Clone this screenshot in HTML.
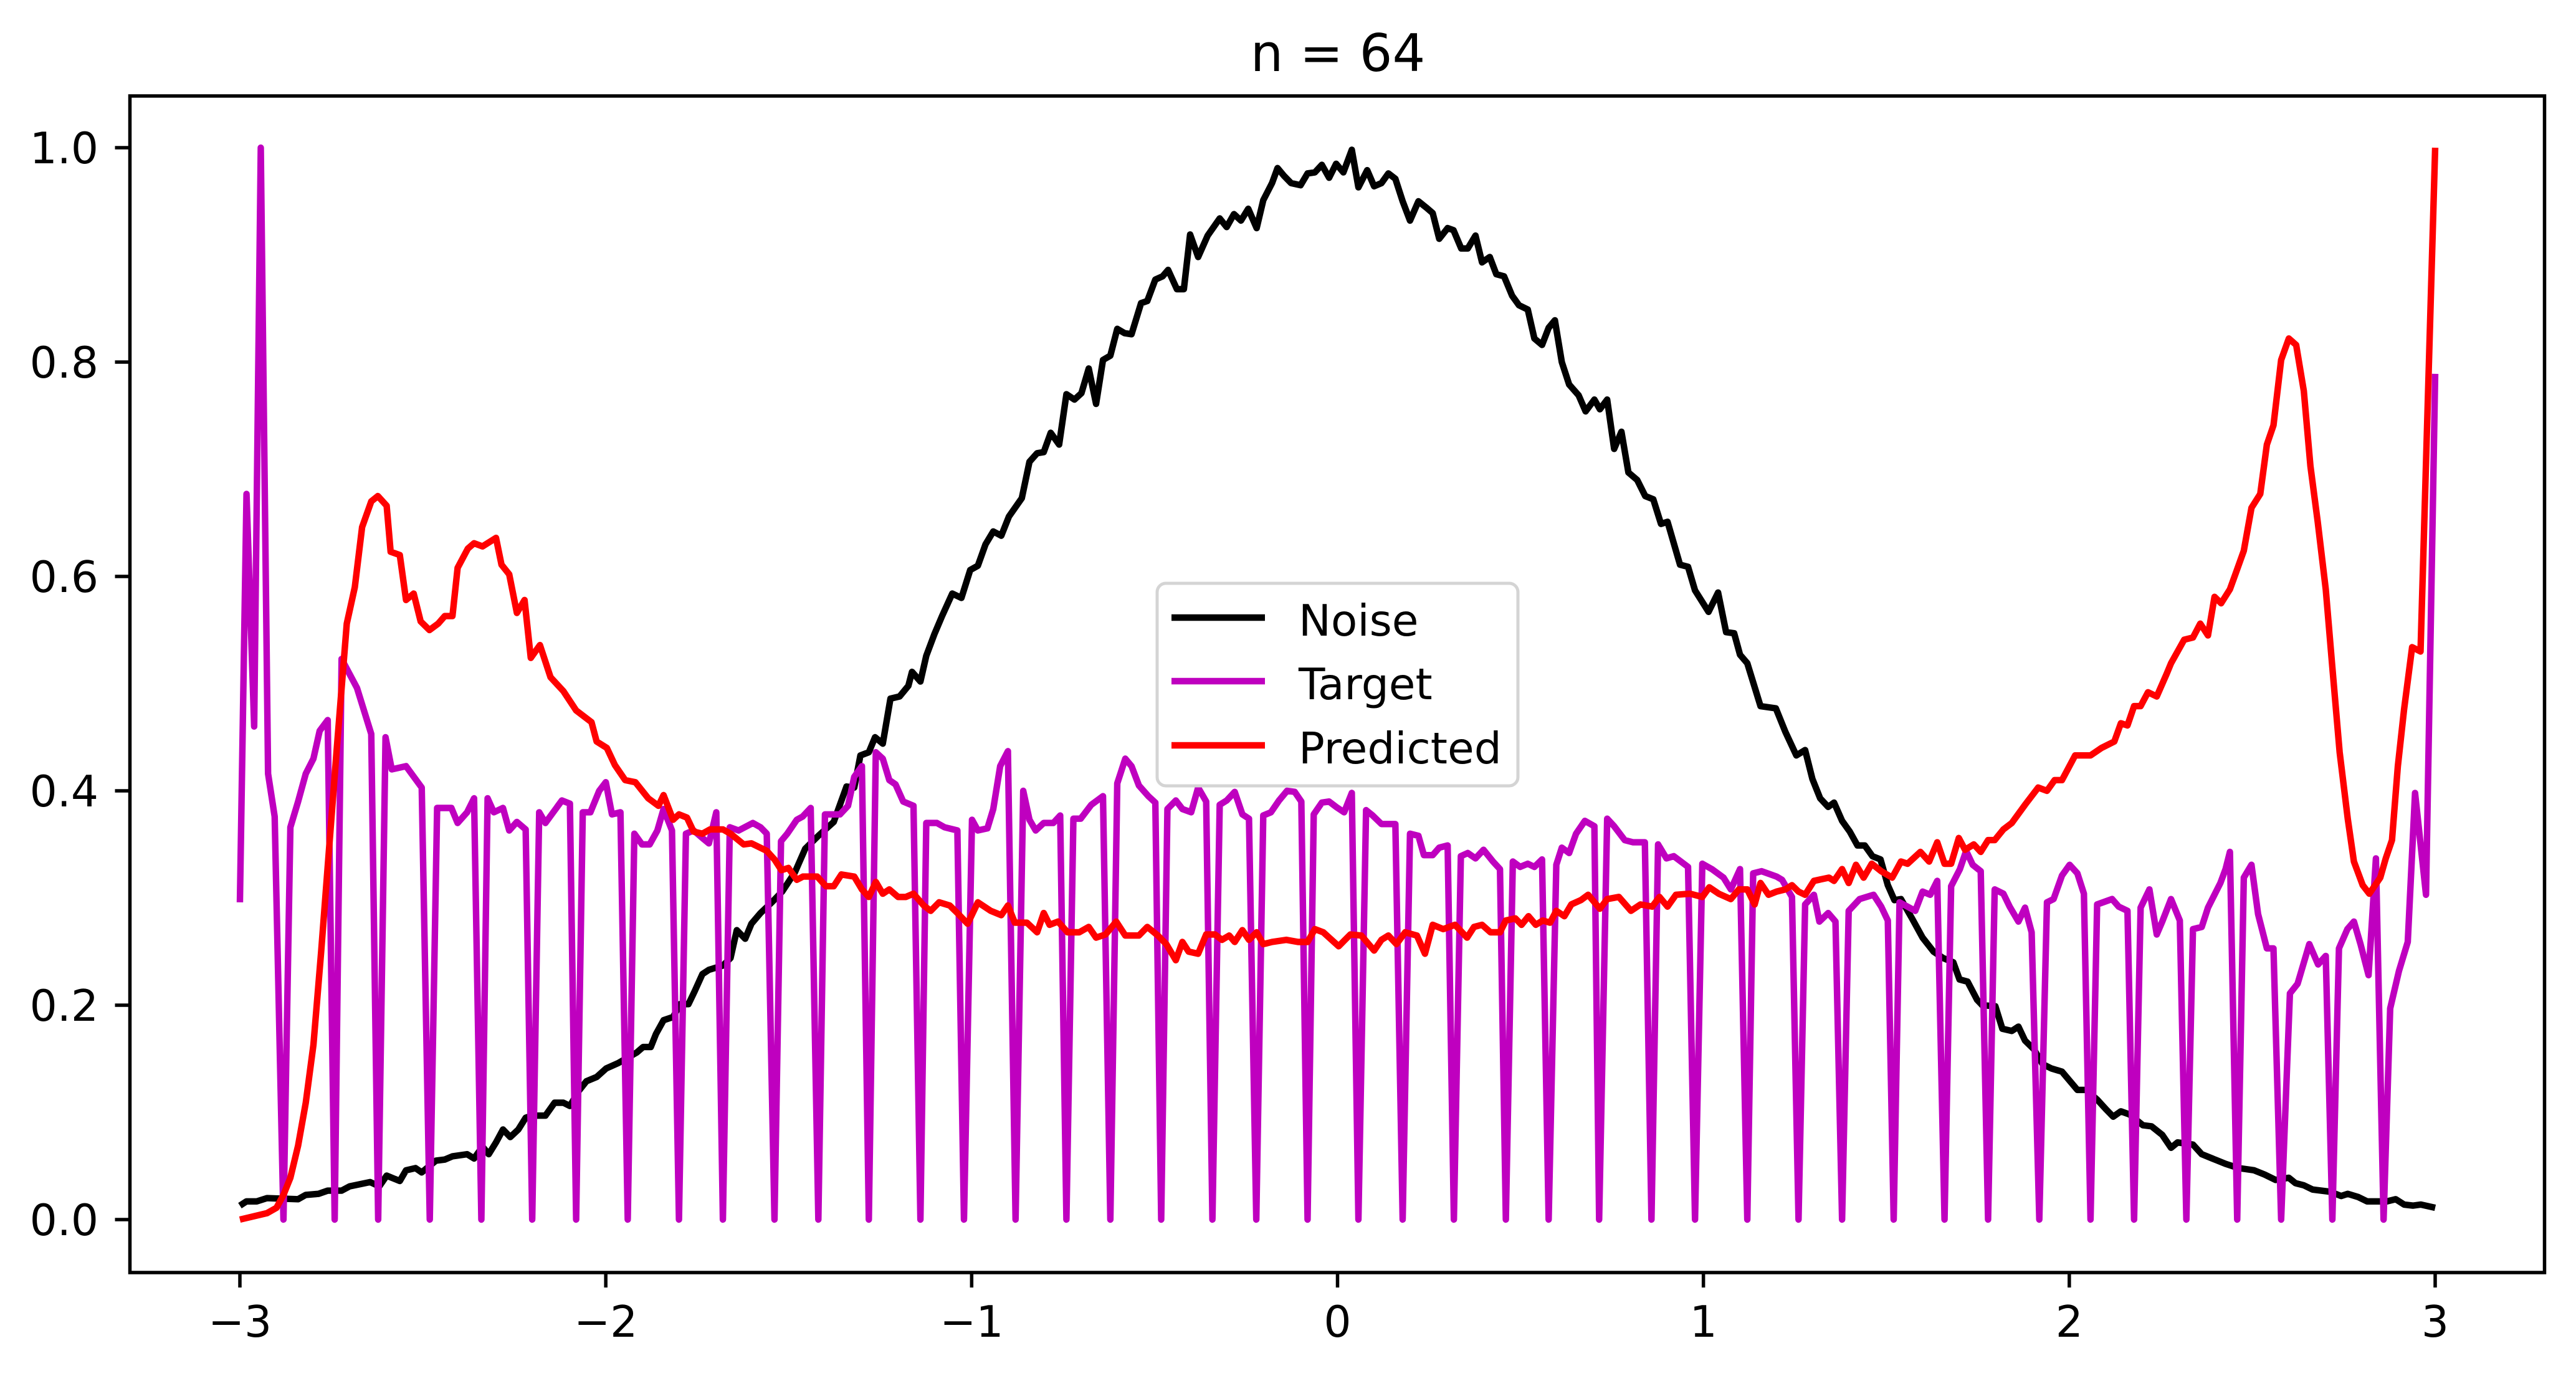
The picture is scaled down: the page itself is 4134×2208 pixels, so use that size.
<!DOCTYPE html>
<html><head><meta charset="utf-8">
<style>
html,body{margin:0;padding:0;background:#fff;}
svg{display:block;font-family:"DejaVu Sans","Liberation Sans",sans-serif;}
</style></head>
<body>
<svg id="chart" width="4134" height="2208" viewBox="0 0 4134 2208" xmlns="http://www.w3.org/2000/svg">
<rect x="0" y="0" width="4134" height="2208" fill="#fff"/>
<text x="2147" y="114" font-size="83" text-anchor="middle" fill="#000">n = 64</text>
<g id="plot"></g>
<g id="axes"></g>
<g id="legend">
  <rect x="1857" y="936" width="579" height="325" rx="14" ry="14" fill="#fff" fill-opacity="0.8" stroke="#d4d4d4" stroke-width="5"/>
  <g>
    <line x1="1880" y1="991" x2="2030" y2="991" stroke="#000" stroke-width="10.4"/>
    <text x="2084" y="1020" font-size="69.4" fill="#000">Noise</text>
  </g>
  <g>
    <line x1="1880" y1="1093" x2="2030" y2="1093" stroke="#bf00bf" stroke-width="10.4"/>
    <text x="2084" y="1122" font-size="69.4" fill="#000">Target</text>
  </g>
  <g>
    <line x1="1880" y1="1196" x2="2030" y2="1196" stroke="#ff0000" stroke-width="10.4"/>
    <text x="2084" y="1225" font-size="69.4" fill="#000">Predicted</text>
  </g>
</g>
</svg>
<script>
const xTicks = [-3, -2, -1, 0, 1, 2, 3];
const xTickLabels = ["\u22123", "\u22122", "\u22121", "0", "1", "2", "3"];
const yTicks = [0, 0.2, 0.4, 0.6, 0.8, 1.0];
const yTickLabels = ["0.0", "0.2", "0.4", "0.6", "0.8", "1.0"];

const noiseData = [[-3.0,0.013],[-2.982,0.017],[-2.954,0.017],[-2.926,0.02],[-2.841,0.019],[-2.82,0.023],[-2.785,0.024],[-2.76,0.027],[-2.722,0.027],[-2.7,0.031],[-2.644,0.035],[-2.619,0.031],[-2.599,0.041],[-2.563,0.036],[-2.546,0.046],[-2.52,0.048],[-2.503,0.044],[-2.464,0.055],[-2.44,0.056],[-2.419,0.059],[-2.379,0.061],[-2.36,0.057],[-2.337,0.068],[-2.32,0.061],[-2.3,0.072],[-2.281,0.084],[-2.261,0.077],[-2.239,0.084],[-2.219,0.095],[-2.201,0.097],[-2.165,0.097],[-2.14,0.109],[-2.116,0.109],[-2.098,0.106],[-2.074,0.12],[-2.053,0.129],[-2.025,0.133],[-1.999,0.141],[-1.966,0.146],[-1.915,0.156],[-1.898,0.161],[-1.877,0.161],[-1.863,0.173],[-1.842,0.186],[-1.816,0.189],[-1.797,0.201],[-1.774,0.201],[-1.757,0.213],[-1.736,0.229],[-1.718,0.233],[-1.68,0.237],[-1.659,0.244],[-1.642,0.27],[-1.619,0.262],[-1.602,0.276],[-1.577,0.286],[-1.546,0.296],[-1.518,0.306],[-1.483,0.324],[-1.455,0.346],[-1.419,0.358],[-1.377,0.371],[-1.342,0.404],[-1.321,0.403],[-1.304,0.433],[-1.281,0.436],[-1.264,0.45],[-1.243,0.444],[-1.222,0.486],[-1.197,0.488],[-1.173,0.498],[-1.163,0.511],[-1.14,0.502],[-1.124,0.526],[-1.102,0.546],[-1.081,0.563],[-1.053,0.584],[-1.028,0.58],[-1.004,0.606],[-0.983,0.61],[-0.962,0.63],[-0.941,0.642],[-0.919,0.638],[-0.898,0.656],[-0.863,0.673],[-0.842,0.707],[-0.821,0.715],[-0.803,0.716],[-0.784,0.734],[-0.761,0.723],[-0.741,0.77],[-0.719,0.765],[-0.7,0.771],[-0.68,0.794],[-0.66,0.761],[-0.641,0.802],[-0.621,0.806],[-0.602,0.831],[-0.582,0.827],[-0.563,0.826],[-0.537,0.855],[-0.52,0.857],[-0.498,0.877],[-0.478,0.88],[-0.463,0.886],[-0.439,0.868],[-0.42,0.868],[-0.403,0.919],[-0.381,0.898],[-0.355,0.918],[-0.322,0.934],[-0.303,0.926],[-0.283,0.938],[-0.264,0.932],[-0.244,0.943],[-0.221,0.925],[-0.203,0.951],[-0.179,0.967],[-0.164,0.981],[-0.147,0.974],[-0.127,0.967],[-0.101,0.965],[-0.082,0.976],[-0.062,0.977],[-0.043,0.984],[-0.023,0.972],[-0.004,0.985],[0.016,0.977],[0.039,0.998],[0.057,0.963],[0.081,0.979],[0.1,0.964],[0.12,0.967],[0.139,0.976],[0.158,0.971],[0.178,0.95],[0.198,0.932],[0.221,0.95],[0.243,0.944],[0.26,0.939],[0.278,0.915],[0.301,0.925],[0.317,0.923],[0.338,0.906],[0.356,0.906],[0.377,0.918],[0.395,0.893],[0.416,0.898],[0.434,0.882],[0.455,0.88],[0.477,0.862],[0.496,0.853],[0.52,0.849],[0.538,0.822],[0.559,0.816],[0.577,0.832],[0.594,0.839],[0.613,0.8],[0.633,0.779],[0.659,0.769],[0.678,0.754],[0.702,0.765],[0.717,0.756],[0.737,0.765],[0.756,0.719],[0.776,0.735],[0.795,0.697],[0.819,0.69],[0.841,0.675],[0.863,0.672],[0.884,0.649],[0.902,0.651],[0.936,0.611],[0.958,0.609],[0.977,0.587],[1.014,0.567],[1.04,0.585],[1.062,0.548],[1.084,0.547],[1.1,0.527],[1.12,0.519],[1.156,0.479],[1.198,0.477],[1.224,0.455],[1.254,0.433],[1.278,0.438],[1.298,0.411],[1.319,0.393],[1.341,0.385],[1.357,0.389],[1.379,0.372],[1.4,0.362],[1.421,0.349],[1.441,0.349],[1.462,0.339],[1.484,0.336],[1.504,0.312],[1.522,0.298],[1.54,0.299],[1.57,0.281],[1.599,0.263],[1.629,0.25],[1.655,0.244],[1.683,0.24],[1.7,0.224],[1.722,0.222],[1.748,0.205],[1.762,0.2],[1.798,0.199],[1.817,0.178],[1.843,0.176],[1.861,0.18],[1.879,0.167],[1.903,0.159],[1.927,0.145],[1.951,0.141],[1.98,0.138],[2.022,0.121],[2.046,0.121],[2.076,0.112],[2.1,0.103],[2.12,0.096],[2.141,0.101],[2.165,0.098],[2.201,0.088],[2.225,0.087],[2.254,0.079],[2.278,0.067],[2.296,0.072],[2.338,0.07],[2.362,0.061],[2.391,0.057],[2.427,0.052],[2.463,0.048],[2.505,0.046],[2.534,0.042],[2.564,0.037],[2.6,0.039],[2.618,0.034],[2.641,0.032],[2.665,0.028],[2.713,0.026],[2.743,0.022],[2.761,0.024],[2.79,0.021],[2.814,0.017],[2.838,0.017],[2.868,0.017],[2.892,0.019],[2.915,0.014],[2.939,0.013],[2.961,0.014],[3.0,0.011]];

const targetData = [[-3.0,0.296],[-2.982,0.677],[-2.961,0.46],[-2.943,1.0],[-2.923,0.416],[-2.905,0.376],[-2.881,0],[-2.862,0.366],[-2.841,0.39],[-2.82,0.416],[-2.799,0.43],[-2.782,0.456],[-2.76,0.466],[-2.741,0],[-2.722,0.523],[-2.68,0.496],[-2.641,0.453],[-2.622,0],[-2.602,0.45],[-2.585,0.42],[-2.546,0.423],[-2.503,0.403],[-2.481,0],[-2.461,0.384],[-2.422,0.384],[-2.405,0.37],[-2.379,0.38],[-2.36,0.393],[-2.34,0],[-2.323,0.393],[-2.306,0.38],[-2.281,0.384],[-2.264,0.363],[-2.243,0.371],[-2.219,0.364],[-2.201,0],[-2.182,0.38],[-2.165,0.37],[-2.12,0.391],[-2.098,0.388],[-2.081,0],[-2.063,0.38],[-2.042,0.38],[-2.018,0.4],[-2.0,0.408],[-1.983,0.378],[-1.96,0.38],[-1.94,0],[-1.922,0.36],[-1.901,0.35],[-1.88,0.35],[-1.859,0.363],[-1.842,0.383],[-1.819,0.363],[-1.8,0],[-1.781,0.36],[-1.76,0.363],[-1.736,0.356],[-1.718,0.351],[-1.698,0.38],[-1.68,0],[-1.661,0.366],[-1.637,0.363],[-1.598,0.37],[-1.577,0.366],[-1.56,0.36],[-1.539,0],[-1.521,0.353],[-1.504,0.36],[-1.478,0.373],[-1.462,0.376],[-1.44,0.384],[-1.419,0],[-1.401,0.378],[-1.36,0.378],[-1.338,0.386],[-1.321,0.413],[-1.3,0.423],[-1.281,0],[-1.262,0.436],[-1.243,0.43],[-1.225,0.41],[-1.208,0.406],[-1.187,0.39],[-1.159,0.386],[-1.14,0],[-1.124,0.37],[-1.095,0.37],[-1.074,0.366],[-1.039,0.363],[-1.021,0],[-0.999,0.373],[-0.983,0.363],[-0.957,0.365],[-0.941,0.383],[-0.922,0.423],[-0.901,0.437],[-0.88,0],[-0.859,0.4],[-0.842,0.373],[-0.825,0.363],[-0.803,0.37],[-0.777,0.37],[-0.758,0.377],[-0.741,0],[-0.722,0.374],[-0.702,0.374],[-0.673,0.387],[-0.641,0.395],[-0.621,0],[-0.602,0.407],[-0.58,0.43],[-0.563,0.423],[-0.543,0.405],[-0.517,0.395],[-0.498,0.389],[-0.482,0],[-0.465,0.383],[-0.442,0.391],[-0.424,0.383],[-0.4,0.38],[-0.381,0.403],[-0.359,0.39],[-0.342,0],[-0.322,0.387],[-0.303,0.391],[-0.281,0.399],[-0.26,0.378],[-0.242,0.374],[-0.222,0],[-0.203,0.377],[-0.182,0.38],[-0.16,0.391],[-0.138,0.4],[-0.117,0.399],[-0.099,0.39],[-0.082,0],[-0.065,0.378],[-0.043,0.389],[-0.023,0.39],[-0.004,0.385],[0.018,0.38],[0.039,0.398],[0.057,0],[0.078,0.382],[0.096,0.377],[0.12,0.369],[0.158,0.369],[0.178,0],[0.198,0.36],[0.221,0.358],[0.236,0.34],[0.26,0.34],[0.278,0.347],[0.301,0.349],[0.318,0],[0.337,0.339],[0.356,0.342],[0.377,0.337],[0.399,0.345],[0.425,0.334],[0.444,0.327],[0.46,0],[0.479,0.334],[0.499,0.329],[0.52,0.332],[0.538,0.329],[0.559,0.336],[0.577,0],[0.598,0.331],[0.613,0.347],[0.633,0.342],[0.652,0.36],[0.676,0.372],[0.702,0.367],[0.715,0],[0.737,0.374],[0.756,0.367],[0.785,0.354],[0.808,0.352],[0.84,0.352],[0.858,0],[0.876,0.35],[0.899,0.337],[0.919,0.339],[0.958,0.329],[0.977,0],[0.997,0.332],[1.023,0.327],[1.055,0.319],[1.075,0.308],[1.1,0.327],[1.12,0],[1.136,0.323],[1.159,0.325],[1.2,0.32],[1.215,0.317],[1.242,0.301],[1.26,0],[1.278,0.294],[1.302,0.303],[1.317,0.278],[1.341,0.286],[1.361,0.278],[1.379,0],[1.397,0.288],[1.427,0.299],[1.465,0.303],[1.486,0.292],[1.504,0.279],[1.52,0],[1.536,0.296],[1.579,0.288],[1.599,0.306],[1.62,0.303],[1.639,0.316],[1.659,0],[1.677,0.311],[1.701,0.327],[1.718,0.344],[1.736,0.331],[1.758,0.325],[1.778,0],[1.796,0.308],[1.82,0.304],[1.837,0.292],[1.861,0.278],[1.879,0.291],[1.897,0.268],[1.918,0],[1.939,0.296],[1.957,0.299],[1.98,0.321],[2.001,0.331],[2.022,0.323],[2.04,0.304],[2.058,0],[2.076,0.294],[2.117,0.299],[2.135,0.292],[2.159,0.288],[2.177,0],[2.195,0.291],[2.219,0.308],[2.239,0.266],[2.254,0.278],[2.278,0.299],[2.302,0.279],[2.32,0],[2.338,0.271],[2.362,0.273],[2.379,0.291],[2.413,0.314],[2.427,0.327],[2.439,0.343],[2.459,0],[2.477,0.319],[2.498,0.331],[2.516,0.285],[2.54,0.253],[2.558,0.253],[2.579,0],[2.603,0.211],[2.624,0.22],[2.656,0.257],[2.68,0.238],[2.701,0.246],[2.719,0],[2.737,0.253],[2.76,0.271],[2.778,0.278],[2.796,0.257],[2.818,0.228],[2.838,0.337],[2.859,0],[2.877,0.197],[2.901,0.232],[2.925,0.259],[2.945,0.398],[2.975,0.303],[3.0,0.789]];

const predictedData = [[-3.0,0.0],[-2.926,0.006],[-2.9,0.011],[-2.881,0.023],[-2.862,0.039],[-2.841,0.069],[-2.82,0.109],[-2.799,0.163],[-2.778,0.25],[-2.757,0.343],[-2.736,0.436],[-2.708,0.556],[-2.686,0.59],[-2.666,0.646],[-2.641,0.67],[-2.623,0.675],[-2.599,0.666],[-2.588,0.623],[-2.563,0.62],[-2.546,0.578],[-2.525,0.584],[-2.506,0.558],[-2.482,0.55],[-2.458,0.556],[-2.44,0.563],[-2.419,0.563],[-2.405,0.608],[-2.377,0.626],[-2.36,0.631],[-2.337,0.628],[-2.3,0.636],[-2.285,0.611],[-2.264,0.602],[-2.243,0.566],[-2.222,0.578],[-2.205,0.524],[-2.18,0.536],[-2.151,0.506],[-2.116,0.493],[-2.081,0.475],[-2.039,0.464],[-2.025,0.446],[-1.997,0.44],[-1.975,0.424],[-1.947,0.41],[-1.919,0.408],[-1.884,0.393],[-1.856,0.386],[-1.842,0.396],[-1.816,0.373],[-1.8,0.378],[-1.778,0.375],[-1.76,0.362],[-1.736,0.36],[-1.715,0.364],[-1.68,0.364],[-1.659,0.36],[-1.623,0.35],[-1.602,0.351],[-1.56,0.344],[-1.539,0.336],[-1.52,0.326],[-1.501,0.328],[-1.478,0.317],[-1.461,0.32],[-1.422,0.32],[-1.398,0.311],[-1.377,0.311],[-1.356,0.322],[-1.321,0.32],[-1.3,0.308],[-1.281,0.301],[-1.262,0.315],[-1.243,0.304],[-1.225,0.308],[-1.201,0.301],[-1.18,0.301],[-1.159,0.304],[-1.131,0.293],[-1.112,0.288],[-1.089,0.296],[-1.06,0.293],[-1.039,0.286],[-1.011,0.276],[-0.983,0.296],[-0.948,0.288],[-0.919,0.284],[-0.901,0.293],[-0.882,0.277],[-0.849,0.277],[-0.821,0.268],[-0.803,0.286],[-0.787,0.275],[-0.764,0.278],[-0.738,0.268],[-0.706,0.268],[-0.68,0.273],[-0.66,0.263],[-0.634,0.266],[-0.605,0.278],[-0.58,0.265],[-0.543,0.265],[-0.52,0.273],[-0.491,0.265],[-0.468,0.257],[-0.442,0.242],[-0.424,0.259],[-0.407,0.25],[-0.381,0.248],[-0.359,0.266],[-0.335,0.266],[-0.316,0.261],[-0.296,0.265],[-0.281,0.259],[-0.26,0.27],[-0.242,0.261],[-0.221,0.268],[-0.203,0.257],[-0.179,0.259],[-0.14,0.261],[-0.108,0.259],[-0.082,0.259],[-0.062,0.271],[-0.039,0.268],[0.003,0.255],[0.035,0.266],[0.065,0.265],[0.1,0.251],[0.12,0.261],[0.139,0.265],[0.161,0.257],[0.185,0.268],[0.217,0.265],[0.239,0.248],[0.26,0.275],[0.289,0.271],[0.321,0.275],[0.354,0.263],[0.373,0.273],[0.395,0.275],[0.418,0.268],[0.444,0.268],[0.46,0.279],[0.486,0.281],[0.503,0.275],[0.522,0.283],[0.542,0.275],[0.561,0.279],[0.581,0.277],[0.598,0.288],[0.62,0.283],[0.639,0.294],[0.665,0.298],[0.685,0.303],[0.717,0.29],[0.737,0.299],[0.769,0.301],[0.802,0.288],[0.828,0.294],[0.86,0.292],[0.88,0.301],[0.902,0.292],[0.925,0.303],[0.964,0.304],[0.997,0.301],[1.016,0.31],[1.042,0.304],[1.075,0.299],[1.097,0.308],[1.12,0.308],[1.14,0.294],[1.156,0.314],[1.178,0.303],[1.2,0.306],[1.224,0.308],[1.242,0.312],[1.26,0.306],[1.278,0.303],[1.302,0.316],[1.343,0.319],[1.357,0.316],[1.379,0.327],[1.397,0.314],[1.417,0.331],[1.438,0.319],[1.46,0.332],[1.486,0.325],[1.516,0.319],[1.54,0.334],[1.558,0.332],[1.593,0.343],[1.617,0.334],[1.639,0.352],[1.659,0.332],[1.677,0.332],[1.698,0.356],[1.715,0.345],[1.739,0.35],[1.758,0.343],[1.778,0.354],[1.796,0.354],[1.82,0.364],[1.843,0.37],[1.879,0.387],[1.915,0.403],[1.939,0.4],[1.96,0.41],[1.98,0.41],[2.016,0.433],[2.058,0.433],[2.088,0.44],[2.123,0.446],[2.141,0.463],[2.159,0.461],[2.177,0.479],[2.195,0.479],[2.215,0.492],[2.239,0.488],[2.266,0.509],[2.278,0.519],[2.314,0.541],[2.338,0.543],[2.358,0.556],[2.379,0.545],[2.397,0.581],[2.415,0.575],[2.439,0.588],[2.457,0.605],[2.477,0.624],[2.498,0.664],[2.522,0.677],[2.54,0.723],[2.558,0.741],[2.579,0.802],[2.6,0.822],[2.62,0.816],[2.641,0.773],[2.659,0.703],[2.679,0.651],[2.701,0.588],[2.719,0.515],[2.739,0.436],[2.761,0.374],[2.778,0.334],[2.802,0.312],[2.82,0.304],[2.85,0.319],[2.865,0.337],[2.882,0.354],[2.898,0.423],[2.915,0.476],[2.937,0.534],[2.96,0.53],[3.0,1.0]];

const NS = "http://www.w3.org/2000/svg";
const AX = {left: 208.5, right: 4083.5, top: 154, bottom: 2042};
function xScale(v) { return 385 + (v + 3) * (3908 - 385) / 6; }
function yScale(v) { return 1957 - v * 1720; }

const plot = document.getElementById("plot");
const axes = document.getElementById("axes");

function drawSeries(data, color, name) {
  const p = document.createElementNS(NS, "path");
  let d = "";
  data.forEach((pt, i) => {
    d += (i ? "L" : "M") + xScale(pt[0]).toFixed(1) + " " + yScale(pt[1]).toFixed(1);
  });
  p.setAttribute("d", d);
  p.setAttribute("fill", "none");
  p.setAttribute("stroke", color);
  p.setAttribute("stroke-width", "10.4");
  p.setAttribute("stroke-linejoin", "round");
  p.setAttribute("stroke-linecap", "butt");
  
  
  plot.appendChild(p);
}
drawSeries(noiseData, "#000000", "noise-line");
drawSeries(targetData, "#bf00bf", "target-line");
drawSeries(predictedData, "#ff0000", "predicted-line");

// frame
const frame = document.createElementNS(NS, "rect");
frame.setAttribute("x", AX.left);
frame.setAttribute("y", AX.top);
frame.setAttribute("width", AX.right - AX.left);
frame.setAttribute("height", AX.bottom - AX.top);
frame.setAttribute("fill", "none");
frame.setAttribute("stroke", "#000");
frame.setAttribute("stroke-width", "5.5");
frame.setAttribute("stroke-linejoin", "miter");


axes.appendChild(frame);

xTicks.forEach((v, i) => {
  const x = xScale(v);
  const t = document.createElementNS(NS, "line");
  t.setAttribute("x1", x); t.setAttribute("x2", x);
  t.setAttribute("y1", AX.bottom); t.setAttribute("y2", AX.bottom + 24);
  t.setAttribute("stroke", "#000"); t.setAttribute("stroke-width", "5.5");
  
  
  axes.appendChild(t);
  const l = document.createElementNS(NS, "text");
  l.setAttribute("x", x); l.setAttribute("y", 2145);
  l.setAttribute("text-anchor", "middle");
  l.setAttribute("font-size", "69.4");
  l.textContent = xTickLabels[i];
  
  
  axes.appendChild(l);
});

yTicks.forEach((v, i) => {
  const y = yScale(v);
  const t = document.createElementNS(NS, "line");
  t.setAttribute("x1", AX.left - 24); t.setAttribute("x2", AX.left);
  t.setAttribute("y1", y); t.setAttribute("y2", y);
  t.setAttribute("stroke", "#000"); t.setAttribute("stroke-width", "5.5");
  
  
  axes.appendChild(t);
  const l = document.createElementNS(NS, "text");
  l.setAttribute("x", 158); l.setAttribute("y", y + 25);
  l.setAttribute("text-anchor", "end");
  l.setAttribute("font-size", "69.4");
  l.textContent = yTickLabels[i];
  
  
  axes.appendChild(l);
});

// legend on top
const svg = document.getElementById("chart");
svg.appendChild(document.getElementById("legend"));
</script>
</body></html>
